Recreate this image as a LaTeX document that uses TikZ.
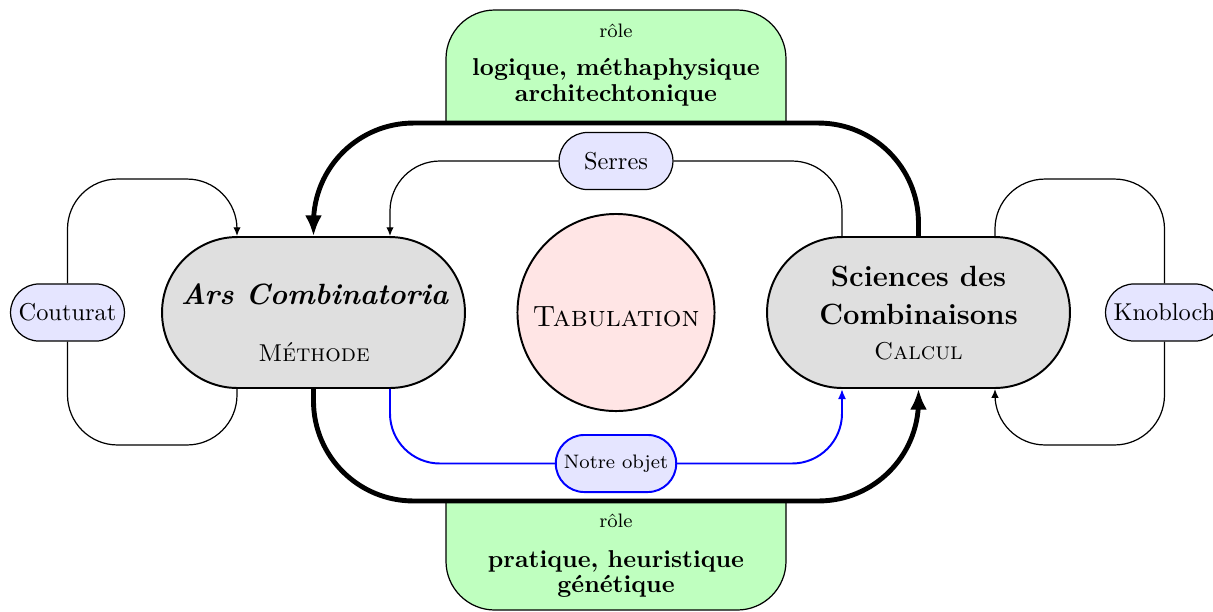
\documentclass[tikz,border=0pt]{standalone}
\usepackage{fontspec}
\usetikzlibrary{arrows.meta,calc}
\begin{document}
\begin{tikzpicture}[x=0.41pt,y=-0.41pt,
  bigbox/.style={draw,thick,fill=gray!25,minimum width=124.2pt,minimum height=61.9pt,rounded corners=30.9pt,inner sep=0pt},
  tabcircle/.style={circle,draw,thick,fill=red!10,minimum size=80.8pt,inner sep=0pt,font=\large\scshape,text height=11.2pt,text depth=0pt},
  smallbox/.style={draw,line width=0.5pt,fill=blue!10,minimum height=23.4pt,minimum width=46.7pt,rounded corners=11.7pt},
  objbox/.style={smallbox,draw=blue,thick,font=\footnotesize},
  rolebox/.style={draw,line width=0.5pt,fill=green!25,rounded corners=20pt},
  txt/.style={anchor=base,inner sep=0pt},
  conn/.style={line width=0.5pt,rounded corners=20.5pt},
  thinarrow/.style={conn,-{Latex[length=3.6pt,width=3pt]}},
  bigarrow/.style={line width=2pt,rounded corners=41pt,-{Latex[length=8.5pt,width=7pt]}},
  bluearrow/.style={conn,blue,thick,-{Latex[length=4.2pt,width=3.4pt]}}
]
\useasboundingbox (0,0) rectangle (1213,611);

% green role boxes
\path[rolebox] (446,124) -- (446,10) -- (786,10) -- (786,124);
\path[rolebox] (446,500) -- (446,610) -- (786,610) -- (786,500);

% nodes
\node[bigbox] (ars) at (313.5,312.5) {};
\node[bigbox] (sci) at (918.5,312.5) {};
\node[tabcircle] (tab) at (616,312.5) {Tabulation};
\node[smallbox] (cou) at (67.5,312.5) {Couturat};
\node[smallbox] (kno) at (1164.5,312.5) {Knobloch};
\node[smallbox] (ser) at (616,161) {Serres};
\node[objbox] (obj) at (616,463.5) {Notre objet};

% texts
\node[txt,font=\large\bfseries\itshape] (arsT) at (314.5,304) {Ars Combinatoria};
\node[txt,font=\scshape] (arsM) at (314,361) {Méthode};
\node[txt,font=\large\bfseries] (sciA) at (918.5,286) {Sciences des};
\node[txt,font=\large\bfseries] (sciB) at (918.5,324) {Combinaisons};
\node[txt,font=\scshape] (sciC) at (918.5,359.5) {Calcul};
\node[txt,font=\footnotesize] (roleT) at (616,37) {rôle};
\node[txt,font=\bfseries] (logA) at (616,75) {logique, méthaphysique};
\node[txt,font=\bfseries] (logB) at (616,101.5) {architechtonique};
\node[txt,font=\footnotesize] (roleB) at (616,527) {rôle};
\node[txt,font=\bfseries] (praA) at (616,567.5) {pratique, heuristique};
\node[txt,font=\bfseries] (praB) at (616,592.5) {génétique};

% Couturat loop
\draw[conn] ($(ars.south)+(-76.5,0)$) -- ++(0,56) -| (cou.south);
\draw[thinarrow] (cou.north) |- ($(ars.north)+(-76.5,-57)$) -- ($(ars.north)+(-76.5,0)$);

% Knobloch loop
\draw[conn] ($(sci.north)+(76.5,0)$) -- ++(0,-57) -| (kno.north);
\draw[thinarrow] (kno.south) |- ($(sci.south)+(76.5,56)$) -- ($(sci.south)+(76.5,0)$);

% Serres loop
\draw[conn] ($(sci.north)+(-76.5,0)$) |- (ser.east);
\draw[thinarrow] (ser.west) -| ($(ars.north)+(76.5,0)$);

% thick loop
\draw[bigarrow] (sci.north) -- ++(0,-113) -| (ars.north);
\draw[bigarrow] (ars.south) -- ++(0,112) -| (sci.south);

% blue loop
\draw[conn,blue,thick] ($(ars.south)+(76.5,0)$) |- (obj.west);
\draw[bluearrow] (obj.east) -| ($(sci.south)+(-76.5,0)$);
\end{tikzpicture}
\end{document}
